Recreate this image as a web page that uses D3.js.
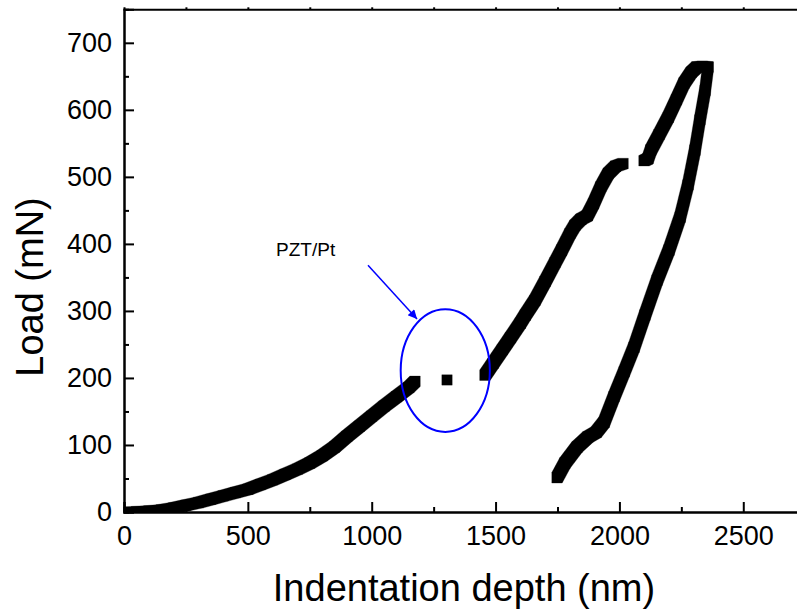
<!DOCTYPE html>
<html>
<head>
<meta charset="utf-8">
<script src="https://cdn.jsdelivr.net/npm/d3@7"></script>
<style>
  body { margin: 0; background: #fff; }
  text { font-family: Arial, "Liberation Sans", sans-serif; }
</style>
</head>
<body>
<div id="root"></div>
<script>
const width = 797;
const height = 615;

// Data: indentation depth (nm) vs load (mN)

// loading, before the PZT/Pt interface
const load1Depth = [0, 50, 100, 150, 200, 250, 300, 350, 400, 450, 500, 550, 600, 650, 700, 750, 800, 850, 900, 950, 1000, 1050, 1100, 1150, 1175];
const load1Load = [0, 0.5, 1.5, 3, 6, 10, 14, 19, 24, 29, 34, 41, 48, 56, 64, 73, 84, 97, 113, 128, 143, 158, 172, 186, 195];

// single point inside the interface
const gapDepth = [1304];
const gapLoad = [197];

// loading, after the interface
const load2Depth = [1457, 1490, 1527, 1560, 1600, 1620, 1659, 1700, 1740, 1767, 1800, 1821, 1845, 1870, 1895, 1925, 1955, 1985, 2015];
const load2Load = [204, 222, 242, 260, 282, 294, 316, 344, 372, 391, 415, 428, 437, 442, 460, 485, 505, 516, 520];

// loading, last part up to max load
const load3Depth = [2099, 2115, 2127, 2160, 2197, 2230, 2261, 2290, 2313, 2335, 2358];
const load3Load = [524, 527, 540, 563, 589, 615, 640, 656, 664, 665, 664];

// unloading
const unloadDepth = [2358, 2346, 2325, 2305, 2277, 2245, 2200, 2152, 2103, 2059, 2019, 1978, 1938, 1906, 1873, 1829, 1780, 1748];
const unloadLoad = [664, 629, 585, 540, 488, 440, 391, 346, 294, 246, 209, 172, 134, 119, 112, 97, 73, 51];

const xMajor = [0, 500, 1000, 1500, 2000, 2500];
const yMajor = [0, 100, 200, 300, 400, 500, 600, 700];

// Scales

const x = d3.scaleLinear().domain([0, 2750]).range([124, 805.2]);
const y = d3.scaleLinear().domain([0, 750]).range([512, 9.3]);

const svg = d3
  .select('#root')
  .append('svg')
  .attr('width', width)
  .attr('height', height);

svg.append('clipPath')
  .attr('id', 'plot-clip')
  .append('rect')
  .attr('x', x(0))
  .attr('y', y(750))
  .attr('width', x(2750) - x(0))
  .attr('height', y(0) - y(750));

// Data marks: square symbols, consecutive ones swept into one band

const series = [
  [load1Depth, load1Load],
  [gapDepth, gapLoad],
  [load2Depth, load2Load],
  [load3Depth, load3Load],
  [unloadDepth, unloadLoad],
].map(([xs, ys]) => xs.map((d, i) => [x(d), y(ys[i])]));

const h = 5.2; // half of the symbol size

function corners([px, py]) {
  return [
    [px - h, py - h],
    [px + h, py - h],
    [px + h, py + h],
    [px - h, py + h],
  ];
}

const pieces = [];
series.forEach((s) => {
  if (s.length === 1) pieces.push(corners(s[0]));
  for (let i = 1; i < s.length; i++) {
    pieces.push(d3.polygonHull(corners(s[i - 1]).concat(corners(s[i]))));
  }
});

svg
  .append('g')
  .attr('clip-path', 'url(#plot-clip)')
  .selectAll('path')
  .data(pieces)
  .join('path')
  .attr('d', (d) => 'M' + d.join('L') + 'Z')
  .attr('fill', '#000')
  .attr('stroke', '#000')
  .attr('stroke-width', 0.3);

// Axes

const frame = svg.append('g');

frame
  .append('g')
  .attr('transform', `translate(0,${y(0)})`)
  .call(d3.axisBottom(x).tickValues(xMajor).tickSize(-10).tickPadding(14).tickFormat(d3.format('d')));

frame
  .append('g')
  .attr('transform', `translate(0,${y(0)})`)
  .call(d3.axisBottom(x).tickValues(d3.range(250, 2750, 500)).tickSize(-5).tickFormat(''));

frame
  .append('g')
  .attr('transform', `translate(${x(0)},0)`)
  .call(d3.axisLeft(y).tickValues(yMajor).tickSize(-10).tickPadding(12));

frame
  .append('g')
  .attr('transform', `translate(${x(0)},0)`)
  .call(d3.axisLeft(y).tickValues(d3.range(50, 750, 100)).tickSize(-5).tickFormat(''));

frame
  .append('g')
  .attr('transform', `translate(0,${y(750)})`)
  .call(d3.axisTop(x).tickValues(d3.range(250, 2750, 250)).tickSize(2).tickFormat(''));

frame.selectAll('.domain').attr('stroke', '#000').attr('stroke-width', 2);
frame.selectAll('.tick line').attr('stroke', '#000').attr('stroke-width', 2);
frame.selectAll('.tick text').attr('fill', '#000').style('font-size', '27px');

// Titles

svg
  .append('text')
  .attr('x', 464)
  .attr('y', 601)
  .attr('text-anchor', 'middle')
  .style('font-size', '38px')
  .text('Indentation depth (nm)');

svg
  .append('text')
  .attr('transform', 'translate(43,287) rotate(-90)')
  .attr('text-anchor', 'middle')
  .style('font-size', '38px')
  .text('Load (mN)');

// Annotation

const blue = '#0000ff';

svg
  .append('defs')
  .append('marker')
  .attr('id', 'arrow')
  .attr('viewBox', '0 0 10 10')
  .attr('refX', 10)
  .attr('refY', 5)
  .attr('markerWidth', 12)
  .attr('markerHeight', 9)
  .attr('markerUnits', 'userSpaceOnUse')
  .attr('orient', 'auto')
  .append('path')
  .attr('d', 'M0,0L10,5L0,10z')
  .attr('fill', blue);

svg
  .append('ellipse')
  .attr('cx', x(1297))
  .attr('cy', y(211))
  .attr('rx', x(1297 + 180) - x(1297))
  .attr('ry', y(211) - y(211 + 91.5))
  .attr('fill', 'none')
  .attr('stroke', blue)
  .attr('stroke-width', 2);

svg
  .append('line')
  .attr('x1', x(985))
  .attr('y1', y(368))
  .attr('x2', x(1183))
  .attr('y2', y(288))
  .attr('stroke', blue)
  .attr('stroke-width', 1.5)
  .attr('marker-end', 'url(#arrow)');

svg
  .append('text')
  .attr('x', x(614))
  .attr('y', y(382))
  .style('font-size', '19px')
  .text('PZT/Pt');
</script>
</body>
</html>
